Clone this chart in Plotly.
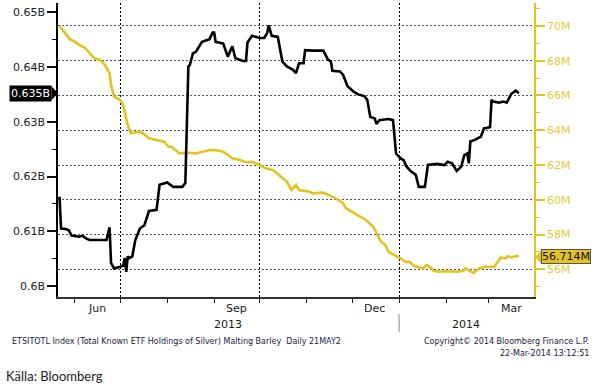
import plotly.graph_objects as go
import pandas as pd

# ---------------- data ----------------
silver_dates = ["2013-05-22","2013-05-23","2013-05-26","2013-05-28","2013-05-30","2013-06-04","2013-06-06","2013-06-09","2013-06-11","2013-06-22",
"2013-06-23","2013-06-24","2013-06-25","2013-06-27","2013-07-01","2013-07-03","2013-07-04","2013-07-05","2013-07-06","2013-07-07",
"2013-07-09","2013-07-11","2013-07-14","2013-07-17","2013-07-20","2013-07-25","2013-07-27","2013-07-30","2013-08-01","2013-08-05",
"2013-08-11","2013-08-13","2013-08-15","2013-08-16","2013-08-18","2013-08-20","2013-08-24","2013-08-27","2013-08-29","2013-08-31",
"2013-09-01","2013-09-02","2013-09-07","2013-09-10","2013-09-13","2013-09-15","2013-09-20","2013-09-22","2013-09-23","2013-09-26",
"2013-10-01","2013-10-04","2013-10-06","2013-10-07","2013-10-09","2013-10-13","2013-10-16","2013-10-19","2013-10-23","2013-10-25",
"2013-10-27","2013-10-30","2013-10-31","2013-11-05","2013-11-12","2013-11-15","2013-11-17","2013-11-18","2013-11-23","2013-11-25",
"2013-11-28","2013-12-02","2013-12-05","2013-12-09","2013-12-11","2013-12-13","2013-12-16","2013-12-17","2013-12-19","2013-12-25",
"2013-12-28","2013-12-30","2014-01-02","2014-01-04","2014-01-06","2014-01-09","2014-01-12","2014-01-14","2014-01-18","2014-01-20",
"2014-01-26","2014-01-31","2014-02-02","2014-02-05","2014-02-08","2014-02-11","2014-02-13","2014-02-15","2014-02-16","2014-02-17",
"2014-02-20","2014-02-24","2014-02-26","2014-03-02","2014-03-03","2014-03-04","2014-03-08","2014-03-11","2014-03-13","2014-03-14",
"2014-03-16","2014-03-19","2014-03-21"]
silver_values_b = [0.6163,0.6105,0.6104,0.6102,0.6092,0.6090,0.6092,0.6086,0.6084,0.6084,
0.6096,0.6107,0.6042,0.6032,0.6035,0.6037,0.6051,0.6026,0.6054,0.6051,
0.6054,0.6084,0.6105,0.6111,0.6137,0.6139,0.6185,0.6188,0.6189,0.6181,
0.6181,0.6188,0.6401,0.6404,0.6425,0.6428,0.6446,0.6449,0.6451,0.6463,
0.6463,0.6446,0.6443,0.6419,0.6438,0.6416,0.6411,0.6411,0.6445,0.6457,
0.6453,0.6453,0.6462,0.6476,0.6457,0.6455,0.6410,0.6401,0.6395,0.6389,
0.6407,0.6407,0.6431,0.6430,0.6430,0.6414,0.6410,0.6393,0.6392,0.6386,
0.6365,0.6355,0.6350,0.6347,0.6340,0.6309,0.6306,0.6296,0.6303,0.6305,
0.6303,0.6242,0.6233,0.6230,0.6218,0.6209,0.6203,0.6181,0.6181,0.6221,
0.6223,0.6221,0.6227,0.6224,0.6210,0.6218,0.6239,0.6242,0.6224,0.6264,
0.6267,0.6273,0.6288,0.6290,0.6340,0.6337,0.6335,0.6337,0.6335,0.6340,
0.6351,0.6357,0.6352]

barley_dates = ["2013-05-22","2013-05-26","2013-05-29","2013-06-01","2013-06-04","2013-06-08","2013-06-11","2013-06-14","2013-06-18","2013-06-21",
"2013-06-24","2013-06-25","2013-06-27","2013-07-01","2013-07-03","2013-07-06","2013-07-08","2013-07-13","2013-07-16","2013-07-20",
"2013-07-25","2013-07-30","2013-08-02","2013-08-04","2013-08-09","2013-08-15","2013-08-20","2013-08-25","2013-08-29","2013-09-02",
"2013-09-07","2013-09-13","2013-09-18","2013-09-22","2013-09-26","2013-10-01","2013-10-05","2013-10-10","2013-10-14","2013-10-19",
"2013-10-22","2013-10-25","2013-10-27","2013-11-03","2013-11-05","2013-11-12","2013-11-16","2013-11-20","2013-11-25","2013-11-27",
"2013-11-29","2013-12-03","2013-12-10","2013-12-15","2013-12-20","2013-12-23","2013-12-25","2014-01-02","2014-01-05","2014-01-08",
"2014-01-11","2014-01-17","2014-01-19","2014-01-22","2014-01-24","2014-01-28","2014-02-01","2014-02-08","2014-02-12","2014-02-14",
"2014-02-19","2014-02-23","2014-02-27","2014-03-05","2014-03-09","2014-03-12","2014-03-14","2014-03-16","2014-03-20","2014-03-21"]
barley_values_m = [70.00,69.58,69.23,69.10,68.91,68.72,68.43,68.14,68.04,67.75,
67.28,66.60,65.93,65.74,65.45,64.30,63.83,63.92,63.83,63.54,
63.44,63.34,63.05,63.05,62.67,62.71,62.67,62.77,62.86,62.86,
62.77,62.39,62.29,62.16,62.19,62.00,61.81,61.71,61.43,61.04,
60.56,60.85,60.56,60.46,60.37,60.41,60.27,60.09,59.80,59.51,
59.41,59.22,58.84,58.45,57.59,57.40,57.01,56.63,56.44,56.44,
56.19,56.06,56.25,56.09,55.90,55.86,55.90,55.86,55.90,56.06,
55.80,56.06,56.15,56.15,56.69,56.63,56.77,56.69,56.77,56.714]

left_tick_vals = [0.60, 0.61, 0.62, 0.63, 0.64, 0.65]
left_tick_text = ["0.6B", "0.61B", "0.62B", "0.63B", "0.64B", "0.65B"]
left_minor_vals = [0.605, 0.615, 0.625, 0.635, 0.645]
right_tick_vals = [56, 58, 60, 62, 64, 66, 68, 70]
right_tick_text = ["56M", "58M", "60M", "62M", "64M", "66M", "68M", "70M"]
right_minor_vals = [55, 57, 59, 61, 63, 65, 67, 69, 71]
quarter_starts = ["2013-07-01", "2013-10-01", "2014-01-01"]
month_starts = ["2013-06-01", "2013-08-01", "2013-09-01", "2013-11-01", "2013-12-01", "2014-02-01", "2014-03-01"]
month_labels = ["Jun", "Sep", "Dec", "Mar"]
month_label_dates = ["2013-06-16", "2013-09-16", "2013-12-16", "2014-03-16"]
year_labels = ["2013", "2014"]
x_range = ["2013-05-21", "2014-03-31"]
year_boundary = "2014-01-01"

footer_left = "ETSITOTL Index (Total Known ETF Holdings of Silver) Malting Barley  Daily 21MAY2"
footer_right_1 = "Copyright\u00a9 2014 Bloomberg Finance L.P."
footer_right_2 = "22-Mar-2014 13:12:51"
source_text = "Källa: Bloomberg"

# ---------------- style ----------------
W, H = 598, 387
ML, MR, MT, MB = 58, 64, 3, 90
PW, PH = W - ML - MR, H - MT - MB
YELLOW = "#E2C21C"
YELLOW_TXT = "#E6C93A"
FONT = "DejaVu Sans"
LEFT_RANGE = [0.59799, 0.6517]
RIGHT_RANGE = [54.41, 71.32]


def px_x(px):
    return (px - ML) / PW


def px_y(py):
    return 1 - (py - MT) / PH


fig = go.Figure()
fig.add_trace(go.Scatter(x=barley_dates, y=barley_values_m, mode="lines",
                         line=dict(color=YELLOW, width=2.6), yaxis="y", showlegend=False))
fig.add_trace(go.Scatter(x=silver_dates, y=silver_values_b, mode="lines",
                         line=dict(color="#000000", width=2.6), yaxis="y2", showlegend=False))

fig.update_layout(
    width=W, height=H,
    margin=dict(l=ML, r=MR, t=MT, b=MB, pad=0),
    paper_bgcolor="white", plot_bgcolor="white",
    showlegend=False,
    xaxis=dict(
        type="date", range=x_range,
        tickmode="array", tickvals=quarter_starts, ticktext=["", "", ""],
        ticks="outside", ticklen=4, tickwidth=1, tickcolor="#222",
        showgrid=True, gridcolor="#000000", gridwidth=1, griddash="2px,2px",
        minor=dict(tickmode="array", tickvals=month_starts, ticks="outside", ticklen=4,
                   tickwidth=1, tickcolor="#222", showgrid=False),
        showline=True, linecolor="#333", linewidth=1.5,
        zeroline=False,
    ),
    yaxis=dict(
        side="right", range=RIGHT_RANGE,
        tickmode="array", tickvals=right_tick_vals, ticktext=right_tick_text,
        ticks="outside", ticklen=9, tickwidth=2, tickcolor=YELLOW,
        minor=dict(tickmode="array", tickvals=right_minor_vals, ticks="outside",
                   ticklen=4, tickwidth=1, tickcolor=YELLOW, showgrid=False),
        tickfont=dict(family=FONT, size=11, color=YELLOW_TXT),
        showgrid=True, gridcolor="#555555", gridwidth=1, griddash="2px,2px",
        showline=True, linecolor=YELLOW, linewidth=1.5, zeroline=False,
    ),
    yaxis2=dict(
        side="left", overlaying="y", range=LEFT_RANGE,
        tickmode="array", tickvals=left_tick_vals, ticktext=left_tick_text,
        ticks="outside", ticklen=9, tickwidth=2, tickcolor="#111",
        minor=dict(tickmode="array", tickvals=left_minor_vals, ticks="outside",
                   ticklen=4, tickwidth=1, tickcolor="#111", showgrid=False),
        tickfont=dict(family=FONT, size=11, color="#1a1a1a"),
        showgrid=False, showline=True, linecolor="#000", linewidth=1.5, zeroline=False,
    ),
)

ann = []
# month labels
for lab, d in zip(month_labels, month_label_dates):
    ann.append(dict(x=d, y=0, xref="x", yref="paper", text=lab, showarrow=False,
                    xanchor="center", yanchor="top", yshift=-3,
                    font=dict(family=FONT, size=11, color="#1a1a1a")))
# year labels centred on visible part of each year
t0, tb, t1 = pd.Timestamp(x_range[0]), pd.Timestamp(year_boundary), pd.Timestamp(x_range[1])
year_centres = [t0 + (tb - t0) / 2, tb + (t1 - tb) / 2]
for lab, d in zip(year_labels, year_centres):
    ann.append(dict(x=d.strftime("%Y-%m-%d"), y=0, xref="x", yref="paper", text=lab, showarrow=False,
                    xanchor="center", yanchor="top", yshift=-19,
                    font=dict(family=FONT, size=11, color="#1a1a1a")))

# last-value tags
ann.append(dict(x=0, y=silver_values_b[-1], xref="paper", yref="y2",
                text=f"{silver_values_b[-1]:.3f}B", showarrow=False,
                xanchor="right", yanchor="middle", xshift=-6,
                bgcolor="#000000", borderpad=1,
                font=dict(family=FONT, size=11, color="white")))
ann.append(dict(x=1, y=barley_values_m[-1], xref="paper", yref="y",
                text=f"{barley_values_m[-1]:.3f}M", showarrow=False,
                xanchor="left", yanchor="middle", xshift=7,
                bgcolor=YELLOW, bordercolor="#555", borderwidth=1, borderpad=0,
                font=dict(family=FONT, size=11, color="#111")))

# footer
ann.append(dict(x=px_x(10), y=px_y(341), xref="paper", yref="paper", text=footer_left,
                showarrow=False, xanchor="left", yanchor="middle",
                font=dict(family=FONT, size=8, color="#1a1a40")))
ann.append(dict(x=px_x(591), y=px_y(341), xref="paper", yref="paper", text=footer_right_1,
                showarrow=False, xanchor="right", yanchor="middle",
                font=dict(family=FONT, size=8, color="#1a1a40")))
ann.append(dict(x=px_x(591), y=px_y(353), xref="paper", yref="paper", text=footer_right_2,
                showarrow=False, xanchor="right", yanchor="middle",
                font=dict(family=FONT, size=8, color="#1a1a40")))
ann.append(dict(x=px_x(4), y=px_y(376), xref="paper", yref="paper", text=source_text,
                showarrow=False, xanchor="left", yanchor="middle",
                font=dict(family="Lato, Roboto, sans-serif", size=13, color="#222")))
fig.update_layout(annotations=ann)

# tag pointers (triangles joining each tag to its axis)
def tag_pointer(v, rng, yref, x_tip, x_base, color, half_px=7):
    dv = half_px * (rng[1] - rng[0]) / PH
    path = (f"M {px_x(x_base)} {v - dv} L {px_x(x_tip)} {v} L {px_x(x_base)} {v + dv} Z")
    fig.add_shape(type="path", xref="paper", yref=yref, path=path,
                  fillcolor=color, line=dict(width=0), layer="above")

tag_pointer(silver_values_b[-1], LEFT_RANGE, "y2", 58, 51.5, "#000000")
tag_pointer(barley_values_m[-1], RIGHT_RANGE, "y", 535, 541.5, YELLOW)

# year separator
fig.add_shape(type="line", xref="x", yref="paper", x0=year_boundary, x1=year_boundary,
              y0=px_y(314), y1=px_y(332), line=dict(color="#888", width=1))

fig.write_html("out.html", config={"displayModeBar": False},
               post_script="document.body.style.margin='0px';document.body.style.overflow='hidden';")
